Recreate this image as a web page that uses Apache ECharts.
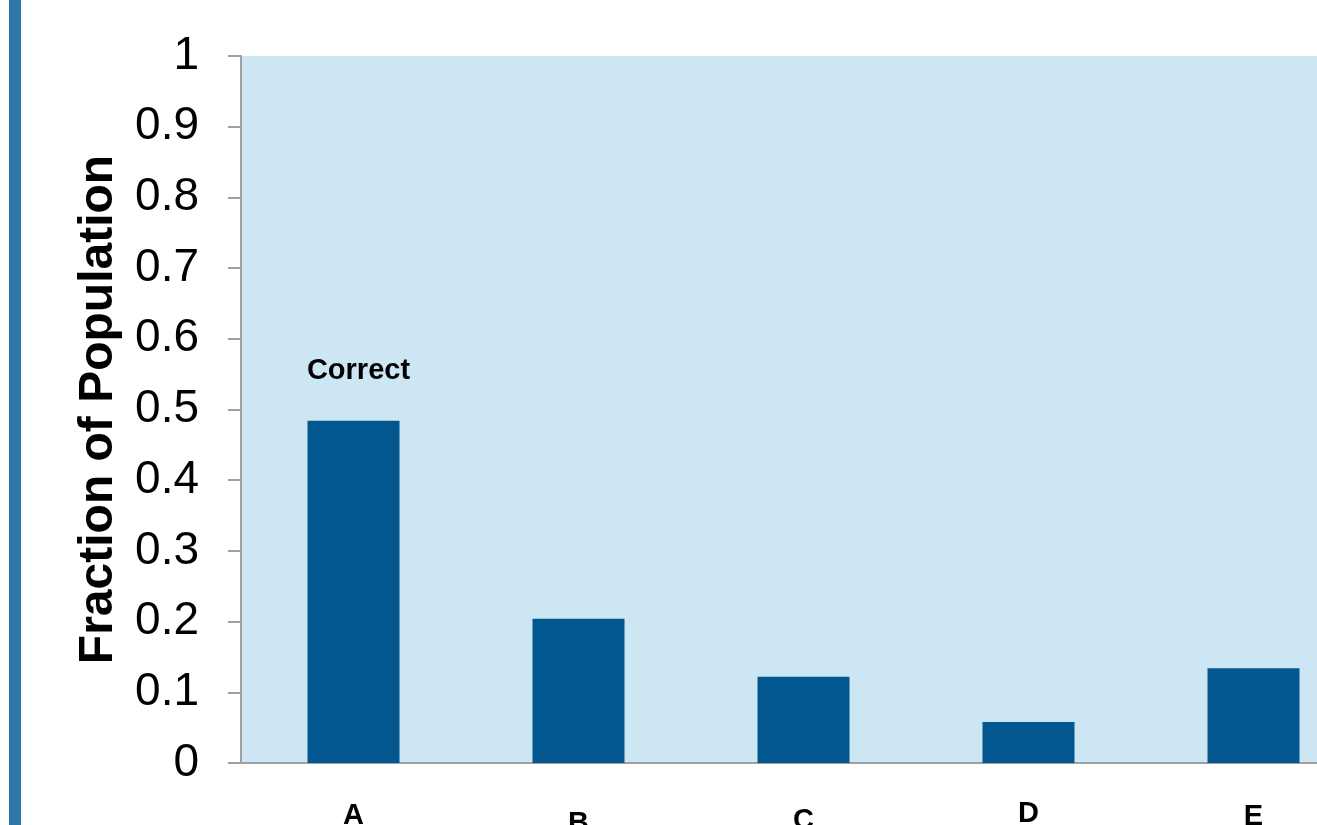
<!DOCTYPE html>
<html>
<head>
<meta charset="utf-8">
<script src="https://cdn.jsdelivr.net/npm/echarts@6/dist/echarts.min.js"></script>
<style>
  html, body { margin: 0; padding: 0; background: #ffffff; }
  #stripe { position: absolute; left: 9px; top: 0; width: 12px; height: 825px; background: #2f77a6; }
  #chart { position: absolute; left: 0; top: 0; width: 1317px; height: 825px; }
</style>
</head>
<body>
<div id="stripe"></div>
<div id="chart"></div>
<script>
// Answer choices and the fraction of respondents choosing each
const categories = ['A', 'B', 'C', 'D', 'E'];
const fractions = [0.484, 0.204, 0.122, 0.058, 0.134];
const notes = ['Correct', '', '', '', ''];
const yTicks = [0, 0.1, 0.2, 0.3, 0.4, 0.5, 0.6, 0.7, 0.8, 0.9, 1];

// staggered downward offsets (px) of the category labels
const labelDrop = [2, 10, 7, 0, 3];
const rich = {};
labelDrop.forEach((d, i) => {
  rich['l' + i] = {
    fontFamily: 'Liberation Sans, Arial, sans-serif',
    fontWeight: 'bold', fontSize: 29, color: '#000',
    padding: [d, 0, 0, 0]
  };
});

const chart = echarts.init(document.getElementById('chart'), null, { renderer: 'canvas' });
chart.setOption({
  animation: false,
  grid: {
    left: 241, top: 56, width: 1125, height: 707,
    containLabel: false, outerBoundsMode: 'none',
    show: true, backgroundColor: '#cce7f3', borderWidth: 0
  },
  xAxis: {
    type: 'category',
    data: categories,
    axisLine: { show: true, lineStyle: { color: '#a0a0a0', width: 2 } },
    axisTick: { show: false },
    axisLabel: {
      margin: 36,
      formatter: (v, i) => '{l' + i + '|' + v + '}',
      rich: rich
    }
  },
  yAxis: {
    type: 'value',
    min: yTicks[0], max: yTicks[yTicks.length - 1], interval: 0.1,
    name: 'Fraction of Population',
    nameLocation: 'middle',
    nameGap: 118,
    nameTextStyle: { fontFamily: 'Liberation Sans, Arial, sans-serif', fontWeight: 'bold', fontSize: 48, color: '#000' },
    axisLine: { show: true, lineStyle: { color: '#a0a0a0', width: 2 } },
    axisTick: { show: true, length: 13, lineStyle: { color: '#a0a0a0', width: 2 } },
    splitLine: { show: false },
    axisLabel: {
      margin: 42,
      padding: [7, 0, 0, 0],
      fontFamily: 'Liberation Sans, Arial, sans-serif',
      fontSize: 46, color: '#000',
      formatter: v => String(Math.round(v * 10) / 10)
    }
  },
  series: [{
    type: 'bar',
    data: fractions,
    barWidth: 92,
    itemStyle: { color: '#02588e' },
    label: {
      show: true,
      position: 'top',
      distance: 35,
      offset: [5, 0],
      formatter: p => notes[p.dataIndex],
      fontFamily: 'Liberation Sans, Arial, sans-serif',
      fontWeight: 'bold', fontSize: 29, color: '#000'
    }
  }]
});
</script>
</body>
</html>
